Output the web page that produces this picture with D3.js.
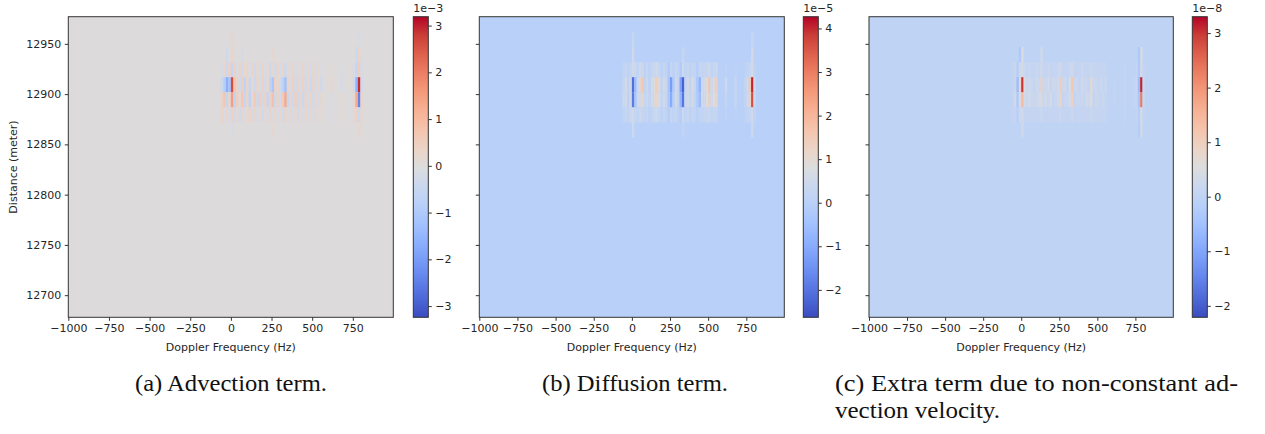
<!DOCTYPE html>
<html>
<head>
<meta charset="utf-8">
<script src="https://cdn.jsdelivr.net/npm/d3@7"></script>
<style>
  body { margin: 0; background: #fff; }
  svg { display: block; }
  .tick text { font-family: "DejaVu Sans", sans-serif; font-size: 11px; fill: #262626; }
  .lab { font-family: "DejaVu Sans", sans-serif; font-size: 11px; fill: #262626; }
  .cap { font-family: "Liberation Serif", "Times New Roman", serif; font-size: 23px; fill: #111; }
</style>
</head>
<body>
<svg id="fig" width="1265" height="434"></svg>
<script>
// doppler bins that carry signal (bin centres, Hz) -- everything else is background
const binHz = 15.625;
const freqs = [-54.7, -39.1, -23.4, -7.8, 7.8, 23.4, 39.1, 54.7, 70.3, 85.9,
  101.6, 117.2, 132.8, 148.4, 164.1, 179.7, 195.3, 210.9, 226.6, 242.2,
  257.8, 273.4, 289.1, 304.7, 320.3, 335.9, 351.6, 367.2, 382.8, 398.4,
  414.1, 429.7, 445.3, 460.9, 476.6, 492.2, 507.8, 523.4, 539.1, 554.7,
  617.2, 679.7, 742.2, 757.8, 773.4, 789.1, 804.7];
// range bins (centres, m), 15 m tall
const rowHeight = 15;
const rowDist = [12924.3, 12909.3, 12894.3, 12879.3];

const xTicks = [-1000, -750, -500, -250, 0, 250, 500, 750];
const yTicks = [12700, 12750, 12800, 12850, 12900, 12950];
const xDomain = [-1000, 999];
const yDomain = [12678, 12977];

// (a) advection term, x 1e-3
const advRows = [
  [-0.2, 0.3, -0.4, 0.4, -0.5, 0.4, -0.2, 0.3, -0.3, 0.2, 0.3, -0.2, 0.3, -0.3, 0.2, -0.2, 0.3, -0.2, 0.2, -0.4, 0.2, -0.3, 0.3, -0.2, 0.2, -0.4, 0.2, -0.2, 0.3, -0.2, 0.2, -0.2, 0.3, -0.2, 0.2, -0.2, 0.2, -0.2, 0.2, -0.1, 0.1, -0.1, 0.1, -0.2, -0.5, 0.5, -0.2],
  [-0.4, -0.9, -1.6, -1.2, 2.6, 0.7, 0.4, -0.3, 0.5, -0.6, 0.3, -0.5, 0.2, -0.4, 0.3, -0.2, 0.4, -0.3, 0.2, -0.6, -1.1, 0.4, 0.2, -0.3, -0.7, -1.3, 0.3, -0.2, 0.4, -0.3, 0.3, -0.2, 0.4, -0.3, 0.2, -0.4, 0.3, -0.2, 0.2, -0.3, 0.2, -0.2, 0.1, -0.4, -1.6, 2.9, -0.3],
  [0.4, 0.7, -0.5, 0.3, 1.5, -0.6, 0.5, 0.2, 0.7, -0.5, 0.3, -0.7, 0.2, 0.6, -0.4, 0.5, -0.3, 0.4, -0.5, 0.4, 0.8, -0.4, 0.4, -0.3, 0.6, 1.3, -0.5, 0.3, -0.3, 0.5, -0.4, 0.3, -0.4, 0.3, -0.2, 0.3, -0.3, 0.2, -0.2, 0.2, -0.1, 0.1, -0.1, 0.3, 1.3, -2.4, 0.3],
  [0.3, -0.2, 0.3, -0.2, 0.4, -0.3, 0.2, -0.3, 0.3, -0.2, 0.2, 0.3, -0.2, 0.3, -0.2, 0.2, -0.3, 0.2, -0.2, 0.3, -0.2, 0.3, -0.2, 0.2, -0.3, 0.3, -0.2, 0.3, -0.2, 0.2, -0.3, 0.2, -0.2, 0.2, -0.2, 0.2, -0.2, 0.2, -0.1, 0.1, -0.1, 0.1, -0.1, 0.2, 0.4, -0.4, 0.2]
];
// faint cells outside the main rows: [freq, distance, value]
const advExtra = [[-23.4, 12939.3, -0.3], [7.8, 12939.3, 0.3], [70.3, 12939.3, -0.2], [257.8, 12939.3, 0.2],
  [773.4, 12939.3, -0.4], [789.1, 12939.3, 0.3], [7.8, 12954.3, 0.2], [789.1, 12954.3, -0.2],
  [7.8, 12864.3, -0.2], [257.8, 12864.3, 0.2], [789.1, 12864.3, 0.2]];
const advRange = [-3.24, 3.19];
const advCbTicks = [-3, -2, -1, 0, 1, 2, 3];

// (b) diffusion term, x 1e-5
const difRows = [
  [0.2, 0.3, 0.1, 0.3, 0.5, 0.4, 0.2, 0.5, 0.4, 0.1, 0.3, 0.1, 0.3, 0.4, 0.5, 0.3, 0.1, 0.3, 0.2, -0.2, 0.3, 0.1, 0.3, 0.2, -0.2, 0.4, 0.2, 0.3, 0.1, 0.3, 0.2, -0.1, 0.3, 0.2, 0.3, 0.3, 0.5, 0.2, 0.3, 0.4, 0.1, 0.1, 0.1, 0.2, 0.3, 0.6, 0.2],
  [0.3, 0.6, 0.2, 0.5, -2.1, -0.6, 0.4, 1.2, 1.5, 0.2, 0.5, 0.1, 0.6, 0.8, 1.4, 1.0, 0.2, 0.6, 0.4, -0.4, -1.3, -0.2, 0.5, 0.3, -1.2, -2.3, 0.3, 0.6, 0.2, 0.7, 0.3, -0.3, -0.8, 0.4, 0.6, 0.9, 1.6, 0.5, 0.9, 1.3, 0.4, 0.3, 0.2, 0.6, 1.5, 4.0, 0.5],
  [0.4, 0.5, 0.1, 0.6, -1.9, -0.4, 0.5, 0.6, 1.0, 0.3, 0.4, 0.2, 0.5, 0.9, 1.2, 0.7, 0.3, 0.5, 0.3, -0.3, -1.0, 0.0, 0.6, 0.2, -0.8, -2.0, 0.4, 0.5, 0.3, 0.6, 0.2, -0.2, -0.6, 0.5, 0.5, 0.8, 1.3, 0.6, 0.8, 1.1, 0.3, 0.3, 0.2, 0.5, 1.2, 3.6, 0.4],
  [0.2, 0.3, 0.2, 0.4, 0.5, 0.3, 0.2, 0.4, 0.3, 0.2, 0.3, 0.1, 0.2, 0.4, 0.4, 0.3, 0.1, 0.3, 0.2, -0.1, 0.3, 0.2, 0.3, 0.1, -0.1, 0.4, 0.2, 0.3, 0.1, 0.3, 0.2, 0.0, 0.2, 0.2, 0.3, 0.3, 0.4, 0.2, 0.3, 0.3, 0.1, 0.1, 0.1, 0.2, 0.3, 0.5, 0.2]
];
const difExtra = [[7.8, 12939.3, 0.5], [335.9, 12939.3, 0.3], [789.1, 12939.3, 0.6], [7.8, 12954.3, 0.3],
  [789.1, 12954.3, 0.3], [7.8, 12864.3, 0.4], [335.9, 12864.3, 0.2], [789.1, 12864.3, 0.4]];
const difRange = [-2.63, 4.27];
const difCbTicks = [-2, -1, 0, 1, 2, 3, 4];

// (c) extra term, non-constant advection velocity, x 1e-8
const extRows = [
  [0.1, 0.2, -0.2, 0.3, 0.4, 0.2, 0.1, 0.2, 0.1, 0.1, 0.2, 0.1, 0.3, 0.1, 0.1, 0.2, 0.1, 0.1, 0.1, 0.2, 0.3, 0.1, 0.1, 0.1, 0.2, 0.3, 0.1, 0.1, 0.1, 0.2, 0.1, 0.1, 0.1, 0.2, 0.1, 0.1, 0.1, 0.1, 0.1, 0.1, 0.0, 0.1, 0.0, 0.1, -0.3, 0.4, 0.1],
  [0.1, 0.2, -0.6, 0.8, 3.0, 0.5, 0.2, 0.3, 0.2, 0.1, 0.3, 0.2, 0.9, 0.2, 0.2, 0.4, 0.1, 0.3, 0.2, 0.3, 1.0, 0.2, 0.3, 0.1, 0.5, 1.1, 0.2, 0.2, 0.1, 0.3, 0.2, 0.2, 0.1, 0.7, 0.2, 0.2, 0.1, 0.2, 0.1, 0.2, 0.1, 0.1, 0.1, 0.2, -0.6, 3.1, 0.2],
  [0.1, 0.3, -0.3, 0.5, 1.4, 0.3, 0.2, 0.4, 0.2, 0.2, 0.2, 0.3, 0.6, 0.2, 0.3, 0.2, 0.4, 0.1, 0.2, 0.3, 0.8, 0.1, 0.2, 0.2, 0.4, 0.9, 0.1, 0.2, 0.2, 0.2, 0.1, 0.3, 0.2, 0.6, 0.1, 0.2, 0.2, 0.1, 0.2, 0.1, 0.1, 0.1, 0.1, 0.1, -0.4, 2.3, 0.2],
  [0.1, 0.1, -0.1, 0.2, 0.3, 0.1, 0.1, 0.1, 0.1, 0.1, 0.1, 0.1, 0.2, 0.1, 0.1, 0.1, 0.1, 0.1, 0.1, 0.1, 0.2, 0.1, 0.1, 0.1, 0.1, 0.2, 0.1, 0.1, 0.1, 0.1, 0.1, 0.1, 0.1, 0.2, 0.1, 0.1, 0.1, 0.1, 0.1, 0.1, 0.0, 0.1, 0.0, 0.1, -0.2, 0.4, 0.1]
];
const extExtra = [[-7.8, 12939.3, -0.3], [7.8, 12939.3, 0.5], [132.8, 12939.3, 0.3], [789.1, 12939.3, 0.5],
  [773.4, 12939.3, -0.3], [7.8, 12864.3, 0.3], [789.1, 12864.3, 0.4], [773.4, 12864.3, -0.2]];
const extRange = [-2.21, 3.30];
const extCbTicks = [-2, -1, 0, 1, 2, 3];

// matplotlib coolwarm, sampled every 1/16
const coolwarm = ["#3b4cc0", "#4d68d7", "#6282ea", "#779af7", "#8db0fe", "#a3c2ff",
  "#b8d0f9", "#cad8ef", "#dddddd", "#ecd3c5", "#f5c4ad", "#f7b194", "#f49a7b",
  "#ec7f63", "#de604d", "#cb3e38", "#b40426"];

const svg = d3.select("#fig");

const panels = [
  { x0: 68.3, x1: 393.3, cb: 413.3, rows: advRows, extra: advExtra, range: advRange, cbTicks: advCbTicks, exp: "1e\u22123", yLabels: true },
  { x0: 479.3, x1: 784.3, cb: 803.3, rows: difRows, extra: difExtra, range: difRange, cbTicks: difCbTicks, exp: "1e\u22125", yLabels: false },
  { x0: 869, x1: 1173.3, cb: 1192.3, rows: extRows, extra: extExtra, range: extRange, cbTicks: extCbTicks, exp: "1e\u22128", yLabels: false }
];
const plotTop = 16.7, plotBottom = 317.3, cbW = 15;
const fmt = d => (d < 0 ? "\u2212" + Math.abs(d) : "" + d);

panels.forEach((p, pi) => {
  const x = d3.scaleLinear().domain(xDomain).range([p.x0, p.x1]);
  const y = d3.scaleLinear().domain(yDomain).range([plotBottom, plotTop]);
  const t = d3.scaleLinear().domain(p.range).range([0, 1]);
  const color = v => d3.interpolateRgbBasis(coolwarm)(Math.max(0, Math.min(1, t(v))));

  const g = svg.append("g");
  const clipId = "clip" + pi;
  g.append("clipPath").attr("id", clipId).append("rect")
    .attr("x", p.x0).attr("y", plotTop).attr("width", p.x1 - p.x0).attr("height", plotBottom - plotTop);

  const plot = g.append("g").attr("clip-path", `url(#${clipId})`);
  plot.append("rect").attr("x", p.x0).attr("y", plotTop)
    .attr("width", p.x1 - p.x0).attr("height", plotBottom - plotTop).attr("fill", color(0));

  const cells = [];
  p.rows.forEach((row, ri) => row.forEach((v, ci) => cells.push({ f: freqs[ci], d: rowDist[ri], v })));
  p.extra.forEach(([f, d, v]) => cells.push({ f, d, v }));
  plot.selectAll("rect.cell").data(cells).join("rect")
    .attr("class", "cell")
    .attr("x", d => x(d.f - binHz / 2))
    .attr("width", d => x(d.f + binHz / 2) - x(d.f - binHz / 2))
    .attr("y", d => y(d.d + rowHeight / 2))
    .attr("height", d => y(d.d - rowHeight / 2) - y(d.d + rowHeight / 2))
    .attr("fill", d => color(d.v));

  g.append("rect").attr("x", p.x0).attr("y", plotTop)
    .attr("width", p.x1 - p.x0).attr("height", plotBottom - plotTop)
    .attr("fill", "none").attr("stroke", "#333").attr("stroke-width", 1);

  const xa = g.append("g").attr("transform", `translate(0,${plotBottom})`)
    .call(d3.axisBottom(x).tickValues(xTicks).tickFormat(fmt).tickSize(3.5).tickPadding(3));
  const ya = g.append("g").attr("transform", `translate(${p.x0},0)`)
    .call(d3.axisLeft(y).tickValues(yTicks).tickSize(3.5).tickPadding(3.5)
      .tickFormat(p.yLabels ? d3.format("d") : ""));
  [xa, ya].forEach(a => { a.select(".domain").remove(); a.selectAll("line").attr("stroke", "#333"); });

  g.append("text").attr("class", "lab").attr("text-anchor", "middle")
    .attr("x", (p.x0 + p.x1) / 2).attr("y", 350.5).text("Doppler Frequency (Hz)");
  if (p.yLabels) {
    g.append("text").attr("class", "lab").attr("text-anchor", "middle")
      .attr("transform", `translate(17,${(plotTop + plotBottom) / 2}) rotate(-90)`).text("Distance (meter)");
  }

  // colorbar
  const gid = "grad" + pi;
  const grad = g.append("linearGradient").attr("id", gid)
    .attr("x1", 0).attr("y1", 1).attr("x2", 0).attr("y2", 0);
  coolwarm.forEach((c, i) => grad.append("stop").attr("offset", i / (coolwarm.length - 1)).attr("stop-color", c));
  const cy = d3.scaleLinear().domain(p.range).range([plotBottom, plotTop]);
  g.append("rect").attr("x", p.cb).attr("y", plotTop).attr("width", cbW).attr("height", plotBottom - plotTop)
    .attr("fill", `url(#${gid})`).attr("stroke", "#333").attr("stroke-width", 1);
  const ca = g.append("g").attr("transform", `translate(${p.cb + cbW},0)`)
    .call(d3.axisRight(cy).tickValues(p.cbTicks).tickFormat(fmt).tickSize(3.5).tickPadding(3.5));
  ca.select(".domain").remove();
  ca.selectAll("line").attr("stroke", "#333");
  g.append("text").attr("class", "lab").attr("x", p.cb).attr("y", 12).text(p.exp);
});

// sub-figure captions (justified column text, so widths are fixed)
const caps = [
  { x: 135, y: 391, w: 192, t: "(a) Advection term." },
  { x: 542, y: 391, w: 186, t: "(b) Diffusion term." },
  { x: 835, y: 391, w: 403, t: "(c) Extra term due to non-constant ad-" },
  { x: 835, y: 418, w: 165, t: "vection velocity." }
];
svg.selectAll("text.cap").data(caps).join("text").attr("class", "cap")
  .attr("x", d => d.x).attr("y", d => d.y)
  .attr("textLength", d => d.w).attr("lengthAdjust", "spacingAndGlyphs")
  .text(d => d.t);
</script>
</body>
</html>
